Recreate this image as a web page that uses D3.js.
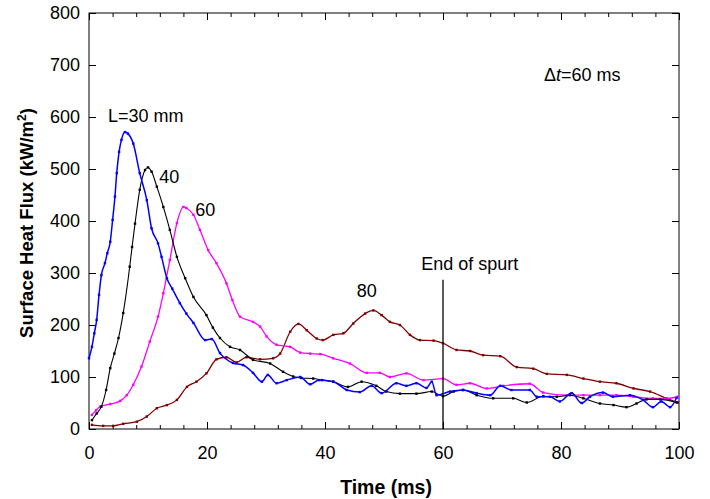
<!DOCTYPE html>
<html>
<head>
<meta charset="utf-8">
<script src="https://cdn.jsdelivr.net/npm/d3@7"></script>
<style>
  body { margin: 0; background: #fff; }
  text { font-family: "Liberation Sans", Arial, sans-serif; }
</style>
</head>
<body>
<div id="chart"></div>
<script>
// L = 30 mm
const t30 = [0, 0.5, 0.9, 1.3, 1.7, 2.1, 2.7, 3.1, 3.6, 4.0, 4.4, 4.7, 5.1, 5.5, 6.1, 6.6, 7.5, 8.6, 9.8, 10.6, 11.7, 12.3, 13.2, 14.1, 15.4, 16.5, 17.7, 19.7, 20.8, 22.2, 24.4, 26.1, 27.8, 29.3, 30.3, 31.8, 33.5, 35.8, 37.5, 39, 41.4, 43.7, 45.9, 47.9, 49.6, 52.1, 53.8, 55.5, 57.2, 58.1, 58.9, 61.2, 63.4, 65.7, 68, 69.7, 71.6, 74.7, 75.9, 78.1, 79.8, 81.8, 83.5, 84.9, 87.1, 88.8, 91.7, 93.9, 95.6, 97, 98.5, 99.6];
const q30 = [136, 158, 184, 210, 258, 296, 319, 338, 360, 402, 447, 492, 533, 556, 571, 568, 549, 492, 440, 386, 357, 331, 290, 270, 242, 222, 204, 171, 173, 146, 127, 123, 108, 91, 104, 88, 94, 100, 86, 94, 91, 75, 71, 83, 69, 88, 83, 88, 79, 91, 65, 72, 75, 69, 65, 83, 75, 75, 62, 62, 53, 69, 50, 62, 70, 62, 65, 56, 42, 53, 42, 60];
// L = 40 mm
const t40 = [0.5, 1.3, 2.1, 2.9, 3.6, 4.3, 5, 5.8, 6.9, 7.3, 7.8, 8.6, 9.5, 10, 10.6, 11.5, 12.6, 13.7, 14.9, 16.3, 17.7, 19.9, 21, 22.2, 23.9, 25.6, 27.8, 30.7, 32.9, 34.6, 36, 38, 39.5, 41.4, 43.9, 46.2, 48.7, 50.4, 52.7, 55.5, 58.1, 60, 61.8, 63.4, 65.7, 68.5, 71.9, 74.2, 77, 79.3, 81.5, 83.8, 86.6, 88.9, 91.1, 92.8, 94.5, 96.8, 99.6];
const q40 = [17, 30, 43, 75, 117, 145, 175, 223, 312, 350, 395, 460, 498, 503, 495, 466, 427, 383, 331, 290, 254, 219, 195, 175, 158, 152, 133, 126, 110, 101, 98, 97, 94, 91, 81, 91, 83, 72, 68, 68, 72, 63, 72, 75, 65, 59, 59, 51, 63, 62, 65, 59, 49, 46, 42, 49, 57, 57, 51];
// L = 60 mm
const t60 = [0.5, 1.2, 1.9, 3.6, 5.3, 6.4, 7.5, 8.9, 10.3, 11.7, 12.6, 13.7, 14.9, 16.0, 16.5, 17.7, 18.8, 20.2, 21.6, 23.3, 24.3, 25.6, 27.8, 29, 30.1, 31.8, 34.1, 35.8, 37.5, 39.2, 41.4, 44.2, 47.1, 49.3, 51, 53.8, 56.7, 60, 62.3, 64.6, 67.4, 70.2, 74.7, 77, 81, 83.8, 86.6, 89.4, 92.3, 95.6, 97.9, 99.8];
const q60 = [27, 36, 43, 48, 54, 65, 85, 120, 168, 216, 261, 325, 396, 427, 425, 412, 383, 344, 319, 280, 248, 216, 206, 197, 178, 162, 158, 147, 145, 144, 136, 126, 108, 108, 100, 107, 94, 97, 85, 88, 78, 83, 87, 70, 65, 65, 65, 65, 62, 59, 59, 62];
// L = 80 mm
const t80 = [0.5, 2.4, 4.1, 5.8, 8.1, 9.8, 11.5, 13.2, 14.9, 16.6, 18.2, 19.9, 21.6, 23.3, 25, 26.7, 29, 31.2, 32.4, 34.1, 35.5, 36.9, 38.6, 39.6, 41.4, 43.1, 44.8, 46.8, 48.2, 49.6, 51, 52.7, 54.4, 56.1, 58.4, 60, 62.3, 64.6, 66.8, 69.7, 72.5, 75.3, 77.6, 81, 83.8, 86.6, 89.4, 92.3, 95.1, 97.9, 99.8];
const q80 = [8, 6, 6, 10, 14, 24, 40, 46, 56, 81, 91, 107, 134, 138, 128, 138, 134, 136, 145, 187, 202, 190, 174, 171, 181, 184, 203, 222, 228, 219, 206, 200, 181, 171, 170, 165, 152, 150, 142, 140, 119, 116, 106, 104, 97, 91, 88, 78, 72, 59, 51];

const xTicks = [0, 20, 40, 60, 80, 100];
const yTicks = [0, 100, 200, 300, 400, 500, 600, 700, 800];
const spurtTime = 60;
const spurtTop = 287;

const width = 710, height = 499;
const margin = {left: 89, right: 31, top: 13, bottom: 70};
const pw = width - margin.left - margin.right;
const ph = height - margin.top - margin.bottom;

const svg = d3.select('#chart').append('svg')
  .attr('width', width)
  .attr('height', height);

const x = d3.scaleLinear().domain([0, 100]).range([0, pw]);
const y = d3.scaleLinear().domain([0, 800]).range([ph, 0]);

const g = svg.append('g')
  .attr('transform', `translate(${margin.left},${margin.top})`);

// axes, ticks pointing inward on all four sides
function styleAxis(sel) {
  sel.select('.domain').remove();
  sel.selectAll('line').attr('stroke', '#000');
  sel.selectAll('text').attr('font-size', 18).attr('fill', '#000');
}
const xMinor = d3.range(0, 101, 4).filter(v => v % 20 !== 0);

g.append('g').attr('transform', `translate(0,${ph})`)
  .call(d3.axisBottom(x).tickValues(xTicks).tickSizeInner(-7).tickSizeOuter(0).tickPadding(17))
  .call(styleAxis);
g.append('g').attr('transform', `translate(0,${ph})`)
  .call(d3.axisBottom(x).tickValues(xMinor).tickSize(-4).tickFormat(''))
  .call(styleAxis);
g.append('g')
  .call(d3.axisTop(x).tickValues(xTicks).tickSize(-7).tickFormat(''))
  .call(styleAxis);
g.append('g')
  .call(d3.axisTop(x).tickValues(xMinor).tickSize(-4).tickFormat(''))
  .call(styleAxis);
g.append('g')
  .call(d3.axisLeft(y).tickValues(yTicks).tickSizeInner(-7).tickSizeOuter(0).tickPadding(9))
  .call(styleAxis);
g.append('g').attr('transform', `translate(${pw},0)`)
  .call(d3.axisRight(y).tickValues(yTicks).tickSize(-7).tickFormat(''))
  .call(styleAxis);

g.append('rect')
  .attr('width', pw).attr('height', ph)
  .attr('fill', 'none').attr('stroke', '#000').attr('stroke-width', 1);

// series
const series = [
  {t: t30, q: q30, color: '#0000ff', width: 1.5},
  {t: t40, q: q40, color: '#000000', width: 1.1},
  {t: t60, q: q60, color: '#ff00ff', width: 1.3},
  {t: t80, q: q80, color: '#800000', width: 1.3},
];
const line = d3.line()
  .x(d => x(d[0])).y(d => y(d[1]))
  .curve(d3.curveMonotoneX);

series.slice().reverse().forEach(s => {
  const pts = s.t.map((t, i) => [t, s.q[i]]);
  g.append('path')
    .datum(pts)
    .attr('d', line)
    .attr('fill', 'none')
    .attr('stroke', s.color)
    .attr('stroke-width', s.width);
  g.append('g').selectAll('rect')
    .data(pts)
    .join('rect')
    .attr('x', d => x(d[0]) - 1.2)
    .attr('y', d => y(d[1]) - 1.2)
    .attr('width', 2.4).attr('height', 2.4)
    .attr('fill', s.color);
});

// end of spurt marker
g.append('line')
  .attr('x1', x(spurtTime)).attr('x2', x(spurtTime))
  .attr('y1', y(spurtTop)).attr('y2', ph)
  .attr('stroke', '#000').attr('stroke-width', 1.3);

// annotations
const notes = [
  {text: 'L=30 mm', tx: 3.2, ty: 590},
  {text: '40', tx: 11.9, ty: 474},
  {text: '60', tx: 18.0, ty: 410},
  {text: '80', tx: 45.4, ty: 254},
  {text: 'End of spurt', tx: 56.3, ty: 305},
];
g.selectAll('.note')
  .data(notes)
  .join('text')
  .attr('class', 'note')
  .attr('x', d => x(d.tx))
  .attr('y', d => y(d.ty))
  .attr('font-size', 18)
  .text(d => d.text);

const dt = g.append('text')
  .attr('x', x(77.1)).attr('y', y(669))
  .attr('font-size', 18);
dt.append('tspan').text('\u0394');
dt.append('tspan').attr('font-style', 'italic').text('t');
dt.append('tspan').text('=60 ms');

// axis titles
svg.append('text')
  .attr('x', margin.left + pw / 2 + 2).attr('y', 494)
  .attr('text-anchor', 'middle')
  .attr('font-size', 19.5).attr('font-weight', 'bold')
  .text('Time (ms)');

const yt = svg.append('text')
  .attr('transform', `translate(33,${margin.top + ph / 2 + 2}) rotate(-90)`)
  .attr('text-anchor', 'middle')
  .attr('font-size', 18.5).attr('font-weight', 'bold');
yt.append('tspan').text('Surface Heat Flux (kW/m');
yt.append('tspan').attr('font-size', 12).attr('dy', -7).text('2');
yt.append('tspan').attr('dy', 7).text(')');
</script>
</body>
</html>
